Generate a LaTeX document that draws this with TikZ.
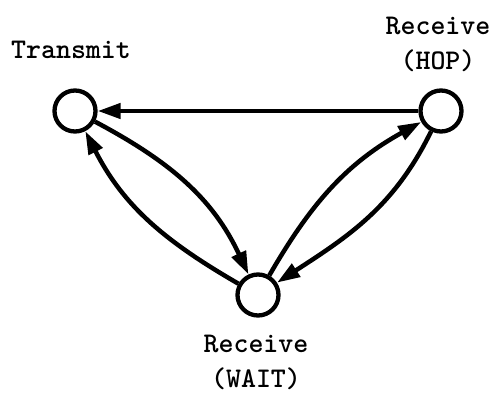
\documentclass[tikz,border=0pt]{standalone}
\usepackage{fontspec}
\usepackage{tikz}
\usetikzlibrary{arrows.meta}
\tikzset{
  >={Triangle[length=23pt,width=15pt]},
  flow/.style={->, line width=4.5pt, draw=black},
  state/.style={
    circle,
    draw=black,
    line width=4.3pt,
    fill=white,
    minimum size=41pt,
    inner sep=0pt
  },
  statelabel/.style={font=\fontsize{28.5}{35}\selectfont\ttfamily\bfseries, align=center, inner sep=0pt}
}

\begin{document}
\begin{tikzpicture}[x=1pt,y=1pt]
  \useasboundingbox (0,0) rectangle (497,392);

  % the three states
  \node[state] (transmit) at (75,281) {};
  \node[state] (hop) at (441,281) {};
  \node[state] (wait) at (258,97) {};

  \node[statelabel,anchor=base] (transmitlabel) at (71,334) {Transmit};
  \node[statelabel] (hoplabel) at (438,348) {Receive\\(HOP)};
  \node[statelabel] (waitlabel) at (256,30) {Receive\\(WAIT)};

  % transitions
  \draw[flow] (hop) -- (transmit);
  \draw[flow] (transmit) to[out=-28,in=115] (wait);
  \draw[flow] (wait) to[out=150,in=-63] (transmit);
  \draw[flow] (wait) to[out=60,in=209] (hop);
  \draw[flow] (hop) to[out=244,in=33] (wait);
\end{tikzpicture}
\end{document}
